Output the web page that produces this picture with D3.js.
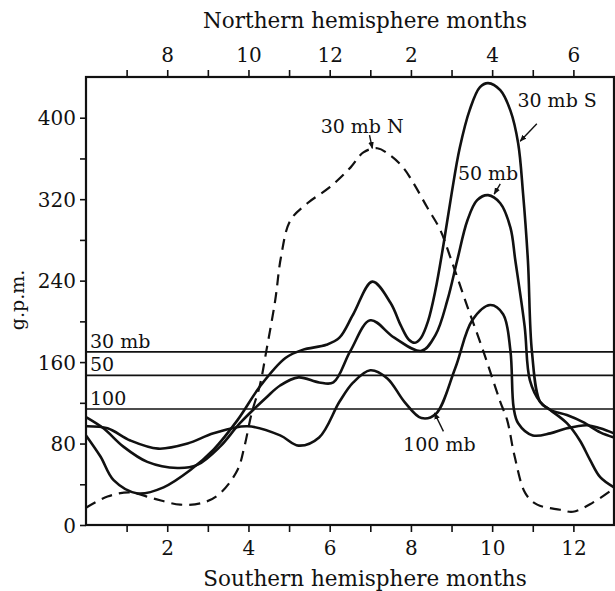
<!DOCTYPE html>
<html>
<head>
<meta charset="utf-8">
<script src="https://cdnjs.cloudflare.com/ajax/libs/d3/7.8.5/d3.min.js"></script>
<style>
  body { margin: 0; background: #fff; }
  svg { display: block; }
  text { font-family: "DejaVu Serif", serif; fill: #111; }
</style>
</head>
<body>
<script>
// Seasonal amplitude curves (g.p.m.) against southern hemisphere month

var months30S = [0, 0.36, 0.68, 1.27, 1.91, 2.57, 3.14, 3.73, 4.3, 4.91, 5.33, 5.92, 6.24, 6.58, 7.05, 7.5, 7.75, 7.95, 8.1, 8.25, 8.42, 8.6, 8.8, 9.0, 9.2, 9.45, 9.7, 9.9, 10.2, 10.45, 10.64, 10.76, 10.88, 10.98, 11.18, 11.43, 11.84, 12.16, 12.41, 12.66, 13];
var gpm30S    = [88, 67, 44, 31, 37, 54, 74, 103, 137, 164, 172, 177, 184, 207, 239, 218, 196, 182, 179, 184, 200, 230, 275, 325, 370, 408, 430, 434, 427, 407, 375, 326, 260, 170, 121, 113, 100, 83, 64, 47, 37];

var months50 = [0, 0.43, 0.92, 1.51, 2.25, 2.74, 3.3, 3.79, 4.46, 4.78, 5.23, 5.74, 6.09, 6.51, 7.0, 7.59, 8.26, 8.61, 8.9, 9.14, 9.39, 9.63, 9.9, 10.2, 10.45, 10.57, 10.8, 10.93, 11.18, 11.43, 11.84, 12.24, 12.66, 13];
var gpm50    = [106, 95, 77, 62, 56, 59, 77, 100, 126, 137, 145, 140, 140, 171, 201, 184, 171, 187, 221, 260, 299, 319, 324, 316, 292, 260, 195, 142, 121, 113, 108, 101, 91, 86];

var months100 = [0, 0.53, 1.09, 1.78, 2.5, 3.14, 3.97, 4.78, 5.23, 5.74, 6.24, 6.58, 7.0, 7.42, 7.84, 8.26, 8.61, 9.09, 9.51, 9.95, 10.27, 10.45, 10.53, 10.64, 11.0, 11.43, 11.84, 12.34, 12.66, 13];
var gpm100    = [97, 95, 83, 75, 80, 90, 97, 88, 78, 86, 121, 140, 152, 144, 121, 105, 109, 154, 201, 216, 207, 171, 115, 100, 88, 90, 95, 98, 95, 90];

var months30N = [0, 0.53, 1.09, 1.66, 2.32, 2.89, 3.3, 3.73, 3.9, 4.08, 4.28, 4.44, 4.66, 4.8, 5.03, 5.45, 6.01, 6.51, 6.83, 7.17, 7.49, 7.81, 8.06, 8.4, 8.72, 8.97, 9.36, 9.78, 10.2, 10.37, 10.55, 10.82, 11.11, 11.67, 11.99, 12.48, 13];
var gpm30N    = [17, 28, 32, 26, 20, 22, 31, 54, 77, 110, 137, 171, 221, 263, 299, 316, 332, 351, 366, 370, 363, 351, 336, 312, 290, 263, 218, 171, 121, 103, 68, 31, 20, 15, 13, 22, 36];

// mean amplitude levels (horizontal lines)
var levelNames  = ["30 mb", "50", "100"];
var levelValues = [170, 147, 114];

var yTickValues = [0, 80, 160, 240, 320, 400];
var xTickValues = [2, 4, 6, 8, 10, 12];
var northLabels = ["8", "10", "12", "2", "4", "6"];

var svgWidth = 615;
var svgHeight = 591;
var margin = { top: 77, right: 1, bottom: 66, left: 86 };
var width = svgWidth - margin.left - margin.right;
var height = svgHeight - margin.top - margin.bottom;

var svg = d3.select("body")
  .append("svg")
  .attr("width", svgWidth)
  .attr("height", svgHeight);

var chartGroup = svg.append("g")
  .attr("transform", `translate(${margin.left}, ${margin.top})`);

var xScale = d3.scaleLinear().domain([0, 13]).range([0, width]);
var yScale = d3.scaleLinear().domain([0, 440]).range([height, 0]);

// axes
var bottomAxis = d3.axisBottom(xScale)
  .tickValues(d3.range(1, 13))
  .tickSize(7)
  .tickFormat(d => xTickValues.indexOf(d) >= 0 ? d : "");
var topAxis = d3.axisTop(xScale)
  .tickValues(d3.range(1, 13))
  .tickSize(7)
  .tickFormat(d => {
    var i = xTickValues.indexOf(d);
    return i >= 0 ? northLabels[i] : "";
  });
var leftAxis = d3.axisLeft(yScale)
  .tickValues(d3.range(0, 440, 40))
  .tickSize(6)
  .tickFormat(d => yTickValues.indexOf(d) >= 0 ? d : "");

function styleAxis(g) {
  g.select(".domain").remove();
  g.selectAll(".tick line").attr("stroke", "#111").attr("stroke-width", 1.6);
  g.selectAll(".tick text").attr("font-size", 20).attr("fill", "#111")
    .style("font-family", "DejaVu Serif, serif");
}

chartGroup.append("g")
  .attr("transform", `translate(0, ${height})`)
  .call(bottomAxis)
  .call(styleAxis)
  .selectAll(".tick text").attr("dy", "1.0em");

chartGroup.append("g")
  .call(topAxis)
  .call(styleAxis)
  .selectAll(".tick text").attr("dy", "-0.25em");

chartGroup.append("g")
  .call(leftAxis)
  .call(styleAxis)
  .selectAll(".tick text").attr("x", -10).attr("dy", "0.36em");

// frame
chartGroup.append("rect")
  .attr("x", 0).attr("y", 0)
  .attr("width", width).attr("height", height)
  .attr("fill", "none")
  .attr("stroke", "#111")
  .attr("stroke-width", 2.2);

// level lines
levelValues.forEach(function(v, i) {
  chartGroup.append("line")
    .attr("x1", 0).attr("x2", width)
    .attr("y1", yScale(v)).attr("y2", yScale(v))
    .attr("stroke", "#111")
    .attr("stroke-width", 1.6);
  chartGroup.append("text")
    .attr("x", 4)
    .attr("y", yScale(v) - 4)
    .attr("font-size", 19)
    .text(levelNames[i]);
});

var line = d3.line()
  .x(d => xScale(d[0]))
  .y(d => yScale(d[1]))
  .curve(d3.curveCatmullRom.alpha(0.5));

var series = [
  { m: months30S, v: gpm30S, dash: null },
  { m: months50, v: gpm50, dash: null },
  { m: months100, v: gpm100, dash: null },
  { m: months30N, v: gpm30N, dash: "11,7" }
];

series.forEach(function(s) {
  var pts = s.m.map((m, i) => [m, s.v[i]]);
  chartGroup.append("path")
    .datum(pts)
    .attr("d", line)
    .attr("fill", "none")
    .attr("stroke", "#111")
    .attr("stroke-width", s.dash ? 2.2 : 2.6)
    .attr("stroke-dasharray", s.dash);
});

// curve labels with short arrows
svg.append("defs").append("marker")
  .attr("id", "arrow")
  .attr("viewBox", "0 0 10 10")
  .attr("refX", 9).attr("refY", 5)
  .attr("markerWidth", 5).attr("markerHeight", 5)
  .attr("orient", "auto")
  .append("path")
  .attr("d", "M0,1 L10,5 L0,9 Z")
  .attr("fill", "#111");

var labels = [
  { text: "30 mb S", lx: 11.6, ly: 411, ax1: 11.1, ay1: 394, ax2: 10.69, ay2: 377 },
  { text: "30 mb N", lx: 6.8, ly: 385, ax1: 6.98, ay1: 383, ax2: 7.05, ay2: 370 },
  { text: "50 mb", lx: 9.9, ly: 339, ax1: 10.2, ay1: 335, ax2: 10.05, ay2: 325 },
  { text: "100 mb", lx: 8.7, ly: 73, ax1: 8.8, ay1: 92, ax2: 8.58, ay2: 110 }
];

labels.forEach(function(l) {
  chartGroup.append("text")
    .attr("x", xScale(l.lx))
    .attr("y", yScale(l.ly))
    .attr("text-anchor", "middle")
    .attr("font-size", 19)
    .text(l.text);
  chartGroup.append("line")
    .attr("x1", xScale(l.ax1)).attr("y1", yScale(l.ay1))
    .attr("x2", xScale(l.ax2)).attr("y2", yScale(l.ay2))
    .attr("stroke", "#111")
    .attr("stroke-width", 1.4)
    .attr("marker-end", "url(#arrow)");
});

// axis titles
svg.append("text")
  .attr("x", 365).attr("y", 28)
  .attr("text-anchor", "middle")
  .attr("font-size", 21.5)
  .text("Northern hemisphere months");

svg.append("text")
  .attr("x", 365).attr("y", 586)
  .attr("text-anchor", "middle")
  .attr("font-size", 21.5)
  .text("Southern hemisphere months");

svg.append("text")
  .attr("transform", "translate(24, 300) rotate(-90)")
  .attr("text-anchor", "middle")
  .attr("font-size", 19)
  .text("g.p.m.");
</script>
</body>
</html>
